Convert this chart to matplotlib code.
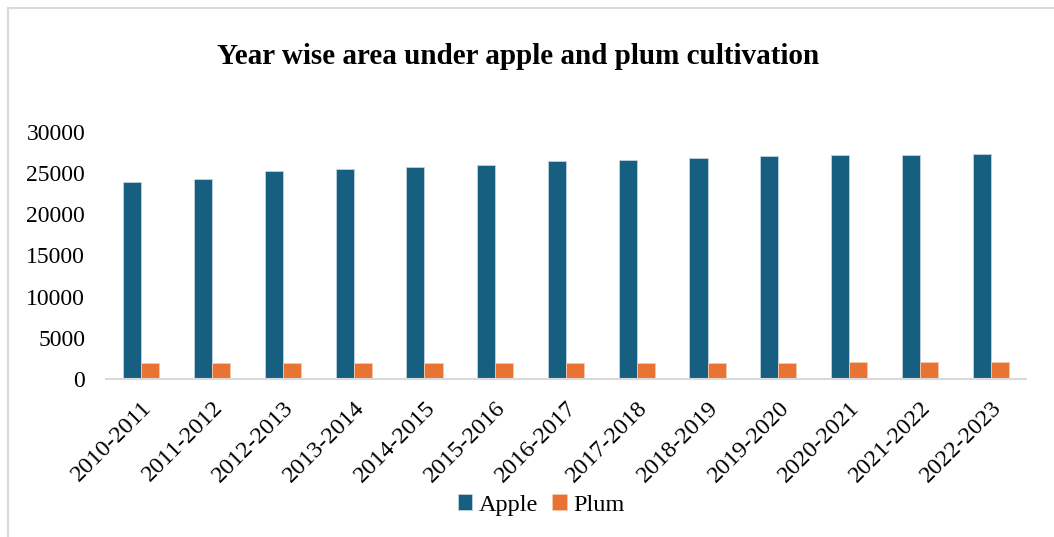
import numpy as np
import matplotlib.pyplot as plt
from matplotlib.lines import Line2D

# Data
years = ["2010-2011", "2011-2012", "2012-2013", "2013-2014", "2014-2015",
         "2015-2016", "2016-2017", "2017-2018", "2018-2019", "2019-2020",
         "2020-2021", "2021-2022", "2022-2023"]
apple = [23850, 24300, 25200, 25450, 25650, 25900, 26450,
         26600, 26850, 27000, 27100, 27100, 27250]
plum = [1950, 1980, 2010, 1990, 1960, 1960, 1960,
        1980, 2010, 2020, 2050, 2070, 2080]

apple_color = "#165F80"
plum_color = "#E97333"
serif = ["Liberation Serif", "DejaVu Serif"]

fig = plt.figure(figsize=(10.54, 5.37), dpi=100)
ax = fig.add_axes([106 / 1054, 1 - 379.3 / 537, 920 / 1054, 247.8 / 537])

x = np.arange(len(years))
w = 0.255
ax.bar(x - w / 2, apple, w, color=apple_color, edgecolor="#BFD3DD", linewidth=0.6, label="Apple")
ax.bar(x + w / 2, plum, w, color=plum_color, edgecolor="#F6C9AE", linewidth=0.6, label="Plum")

ax.set_xlim(-0.5, len(years) - 0.5)
ax.set_ylim(0, 30000)
ax.set_yticks(range(0, 30001, 5000))
ax.set_xticks(x)
ax.set_xticklabels(years, rotation=45, ha="right", va="top", rotation_mode="anchor",
                   fontsize=17.5, family=serif)
for lab in ax.get_yticklabels():
    lab.set_family(serif)
    lab.set_fontsize(17)
ax.tick_params(axis="y", length=0, pad=15)
ax.tick_params(axis="x", length=0, pad=13)

for side in ["left", "right", "top"]:
    ax.spines[side].set_visible(False)
ax.spines["bottom"].set_color("#D9D9D9")
ax.spines["bottom"].set_linewidth(1.5)

fig.text(518 / 1054, 1 - 56 / 537, "Year wise area under apple and plum cultivation",
         ha="center", va="center", fontsize=21, fontweight="bold", family=serif)

leg = fig.legend(loc="center", bbox_to_anchor=(541 / 1054, 1 - 505 / 537), ncol=2, frameon=False,
                 prop={"family": serif, "size": 17.5}, handlelength=0.6, handleheight=0.6,
                 handletextpad=0.25, columnspacing=0.6)

# chart area border (top and left edges visible in the reference)
fig.add_artist(Line2D([8 / 1054, 1], [1 - 8 / 537, 1 - 8 / 537], color="#D9D9D9", lw=1.5))
fig.add_artist(Line2D([8 / 1054, 8 / 1054], [0, 1 - 8 / 537], color="#D9D9D9", lw=1.5))

fig.savefig("out.png", dpi=100)
